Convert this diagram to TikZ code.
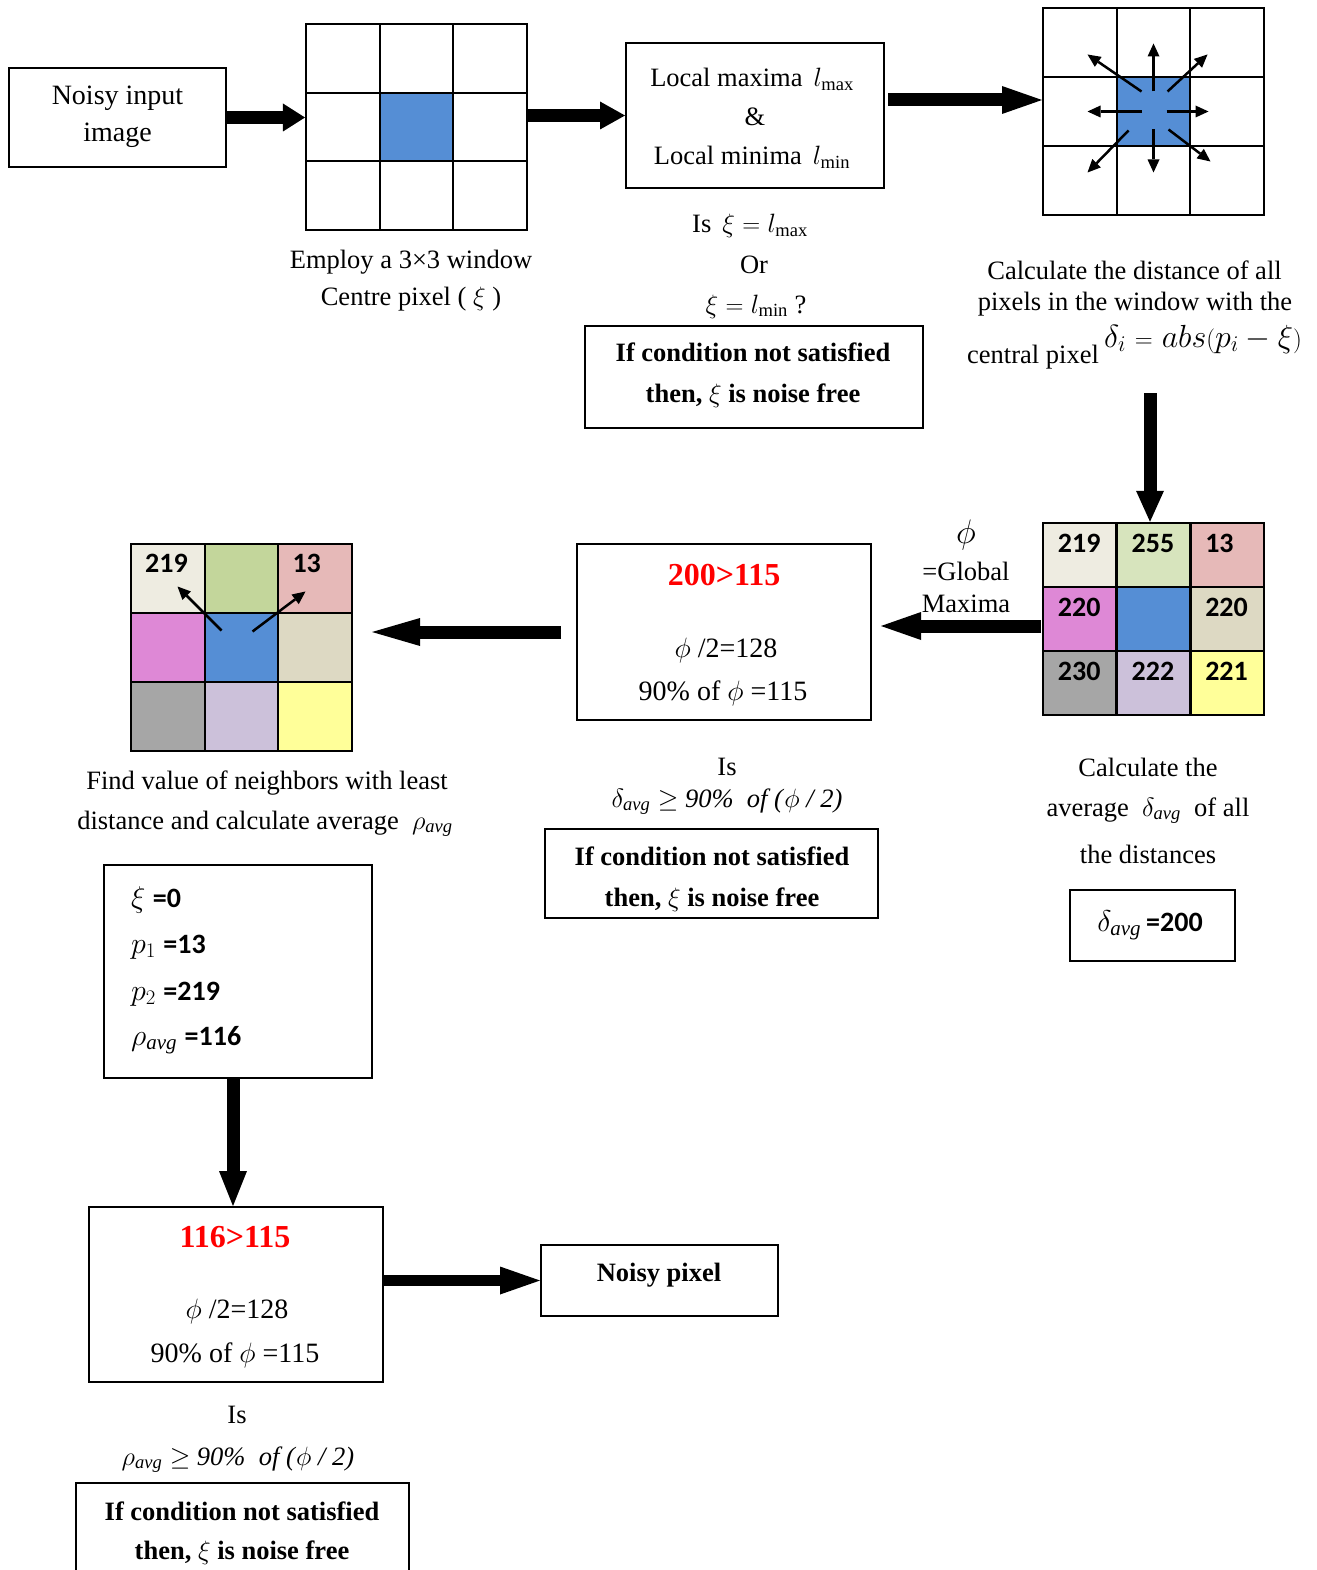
\documentclass[tikz,border=0pt]{standalone}
\usepackage{fontspec}
\setmainfont{Liberation Serif}
\newfontfamily\numfont{Carlito}
\DeclareFontShape{OML}{cmm}{m}{it}{<->cmmi12}{}
\DeclareFontShape{OMS}{cmsy}{m}{n}{<->cmsy10}{}
\usetikzlibrary{arrows.meta,calc}

\definecolor{cblue}{RGB}{85,142,213}
\definecolor{ccream}{RGB}{238,236,225}
\definecolor{cgreenl}{RGB}{215,228,189}
\definecolor{cgreen}{RGB}{195,214,155}
\definecolor{crose}{RGB}{230,185,184}
\definecolor{cpink}{RGB}{222,136,214}
\definecolor{ctan}{RGB}{221,217,195}
\definecolor{cgray}{RGB}{166,166,166}
\definecolor{clilac}{RGB}{204,193,218}
\definecolor{cyell}{RGB}{255,255,153}

\newcommand\txtsize{\fontsize{26.5}{30}\selectfont}
\newcommand\bigsize{\fontsize{28}{32}\selectfont}
\newcommand\numb{\numfont\bfseries\fontsize{28}{32}\selectfont}

\begin{document}
\begin{tikzpicture}[x=1pt, y=-1pt,
    box/.style={draw, line width=2pt, inner sep=0},
    cell/.style={draw, line width=2pt, minimum width=73.7pt, minimum height=69pt, inner sep=0},
    lbl/.style={inner sep=0, anchor=base, font=\txtsize},
    blbl/.style={lbl, font=\txtsize\bfseries},
    redlbl/.style={lbl, font=\fontsize{32}{36}\selectfont\bfseries, text=red},
    num/.style={inner sep=0, anchor=north west, font=\numb},
    fat/.style={line width=13pt, -{Triangle[length=#1, width=28pt, line width=0pt]}},
    fat/.default=40pt,
    ray/.style={line width=2.5pt, -{Triangle[length=13pt, width=12pt, line width=0pt]}}]

    \useasboundingbox (0,0) rectangle (1316,1570);
    \fill[white] (0,0) rectangle (1316,1570);

    % input and first window
    \node[box, minimum width=217pt, minimum height=99pt] (noisy) at (117.5,117.5) {};
    \node[lbl, font=\bigsize] (noisy1) at (117.5,105) {Noisy input};
    \node[lbl, font=\bigsize] (noisy2) at (117.5,142) {image};

    \foreach \row/\col/\clr in {1/1/white,1/2/white,1/3/white,2/1/white,2/2/cblue,2/3/white,3/1/white,3/2/white,3/3/white}
        \node[cell, fill=\clr, minimum height=68.7pt] (a\row\col) at ({306+73.67*(\col-0.5)},{24+68.67*(\row-0.5)}) {};
    \node[lbl] (emp1) at (411,268) {Employ a 3×3 window};
    \node[lbl] (emp2) at (411,305) {Centre pixel ( $\xi$ )};

    % local extrema
    \node[box, minimum width=258pt, minimum height=145pt] (local) at (755,115.5) {};
    \node[lbl] (loc1) at (752,87) {Local maxima\, $l_{\max}$};
    \node[lbl] (loc2) at (755,126) {\&};
    \node[lbl] (loc3) at (752,165) {Local minima\, $l_{\min}$};
    \node[lbl] (is1) at (750,233) {Is\, $\xi = l_{\max}$};
    \node[lbl] (or1) at (754,273) {Or};
    \node[lbl] (is2) at (756,313) {$\xi = l_{\min}$ ?};
    \node[box, minimum width=338pt, minimum height=102pt] (cond1) at (754,377) {};
    \node[blbl] (cd1a) at (753,361) {If condition not satisfied};
    \node[blbl] (cd1b) at (753,402) {then, $\xi$ is noise free};

    % distances in the window
    \foreach \row/\col/\clr in {1/1/white,1/2/white,1/3/white,2/1/white,2/2/cblue,2/3/white,3/1/white,3/2/white,3/3/white}
        \node[cell, fill=\clr] (b\row\col) at ({1043+73.67*(\col-0.5)},{8+69*(\row-0.5)}) {};
    \foreach \xa/\ya/\xb/\yb in {0/-20/0/-68, 0/18/0/61, -12/0/-66/0, 13/0/55/0, -12/-20/-66/-57, 14/-20/54/-57, -25/19/-66/61, 15/18/57/50}
        \draw[ray] ($(b22)+(\xa,\ya)$) -- ($(b22)+(\xb,\yb)$);
    \node[lbl] (cal1) at (1134.5,279) {Calculate the distance of all};
    \node[lbl] (cal2) at (1135,310) {pixels in the window with the};
    \node[lbl, anchor=base west] (cal3) at (967,363) {central pixel};
    \node[lbl, anchor=base west, font=\fontsize{32}{36}\selectfont] (form) at (1104,347) {$\delta_i = abs(p_i - \xi)$};

    % values of the window
    \foreach \row/\col/\clr in {1/1/ccream,1/2/cgreenl,1/3/crose,2/1/cpink,2/2/cblue,2/3/ctan,3/1/cgray,3/2/clilac,3/3/cyell}
        \node[cell, fill=\clr, line width=2.5pt, minimum height=64pt] (c\row\col) at ({1043+73.67*(\col-0.5)},{523+64*(\row-0.5)}) {};
    \foreach \row/\col/\val in {1/1/219,1/2/255,1/3/13,2/1/220,2/3/220,3/1/230,3/2/222,3/3/221}
        \node[num] (n\row\col) at ([shift={(16,12)}]c\row\col.north west) {\val};
    \node[lbl, font=\fontsize{34}{38}\selectfont] (phi) at (966,543) {$\phi$};
    \node[lbl] (glob1) at (966,580) {=Global};
    \node[lbl] (glob2) at (966,612) {Maxima};

    \node[lbl] (avg1) at (1148,776) {Calculate the};
    \node[lbl] (avg2) at (1148,816) {average\ \ $\delta_{\mathit{avg}}$\ \ of all};
    \node[lbl] (avg3) at (1148,863) {the distances};
    \node[box, minimum width=165pt, minimum height=71pt] (davg) at (1152.5,925.5) {};
    \node[lbl, font=\fontsize{30}{34}\selectfont] (davgv) at (1150,931) {$\delta_{\mathit{avg}}$\,{\numb =200}};

    % global maxima test
    \node[box, minimum width=294pt, minimum height=176pt] (b200) at (724,632) {};
    \node[redlbl] (r200) at (724,585) {200>115};
    \node[lbl, font=\bigsize] (half1) at (726,657) {$\phi$ /2=128};
    \node[lbl, font=\bigsize] (pc1) at (723,700) {90\% of $\phi$ =115};
    \node[lbl] (is3) at (727,775) {Is};
    \node[lbl] (cmp1) at (727,807) {$\delta_{\mathit{avg}} \geq$ \textit{90\%\ \ of (}$\phi$\textit{ / 2)}};
    \node[box, minimum width=333pt, minimum height=89pt] (cond2) at (711.5,873.5) {};
    \node[blbl] (cd2a) at (712,865) {If condition not satisfied};
    \node[blbl] (cd2b) at (712,906) {then, $\xi$ is noise free};

    % least distance neighbours
    \foreach \row/\col/\clr in {1/1/ccream,1/2/cgreen,1/3/crose,2/1/cpink,2/2/cblue,2/3/ctan,3/1/cgray,3/2/clilac,3/3/cyell}
        \node[cell, fill=\clr] (d\row\col) at ({131+73.67*(\col-0.5)},{544+69*(\row-0.5)}) {};
    \node[num] (m11) at ([shift={(15,11)}]d11.north west) {219};
    \node[num] (m13) at ([shift={(15,11)}]d13.north west) {13};
    \foreach \xa/\ya/\xb/\yb in {-20/-17/-64/-61, 11/-16/64/-56}
        \draw[ray] ($(d22)+(\xa,\ya)$) -- ($(d22)+(\xb,\yb)$);
    \node[lbl] (fnd1) at (267,789) {Find value of neighbors with least};
    \node[lbl] (fnd2) at (265,829) {distance and calculate average\ \ $\rho_{\mathit{avg}}$};

    \node[box, minimum width=268pt, minimum height=213pt] (vals) at (238,971.5) {};
    \node[lbl, anchor=base west, font=\fontsize{30}{34}\selectfont] (v1) at (131,907) {$\xi$ {\numb =0}};
    \node[lbl, anchor=base west, font=\fontsize{30}{34}\selectfont] (v2) at (131,953) {$p_1$ {\numb =13}};
    \node[lbl, anchor=base west, font=\fontsize{30}{34}\selectfont] (v3) at (131,1000) {$p_2$ {\numb =219}};
    \node[lbl, anchor=base west, font=\fontsize{30}{34}\selectfont] (v4) at (131,1045) {$\rho_{\mathit{avg}}$ {\numb =116}};

    % final test
    \node[box, minimum width=294pt, minimum height=175pt] (b116) at (236,1294.5) {};
    \node[redlbl] (r116) at (235,1247) {116>115};
    \node[lbl, font=\bigsize] (half2) at (237,1318) {$\phi$ /2=128};
    \node[lbl, font=\bigsize] (pc2) at (235,1362) {90\% of $\phi$ =115};
    \node[box, minimum width=237pt, minimum height=71pt] (npix) at (659.5,1280.5) {};
    \node[blbl] (npixt) at (659,1281) {Noisy pixel};
    \node[lbl] (is4) at (237,1423) {Is};
    \node[lbl] (cmp2) at (238,1465) {$\rho_{\mathit{avg}} \geq$ \textit{90\%\ \ of (}$\phi$\textit{ / 2)}};
    \node[box, minimum width=333pt, minimum height=140pt] (cond3) at (242.5,1553) {};
    \node[blbl] (cd3a) at (242,1520) {If condition not satisfied};
    \node[blbl] (cd3b) at (242,1559) {then, $\xi$ is noise free};

    % block arrows
    \draw[fat=22pt] (noisy.east) -- (noisy.east -| a21.west);
    \draw[fat=25pt] (local.west -| a23.east) -- (local.west);
    \coordinate (a3s) at (888,100);
    \draw[fat] (a3s) -- (a3s -| b21.west);
    \coordinate (a4s) at (1150,393);
    \draw[fat=31pt] (a4s) -- (a4s |- c12.north);
    \coordinate (a5s) at (1041,626);
    \draw[fat=40pt] (a5s) -- ($(b200.east |- a5s)+(9,0)$);
    \coordinate (a6s) at (561,632);
    \draw[fat=48pt] (a6s) -- ($(d23.east |- a6s)+(19,0)$);
    \coordinate (a7s) at (233,1078);
    \draw[fat=35pt] (a7s) -- (a7s |- b116.north);
    \draw[fat=40pt, line width=11pt] (b116.east |- npix.west) -- (npix.west);
\end{tikzpicture}
\end{document}
